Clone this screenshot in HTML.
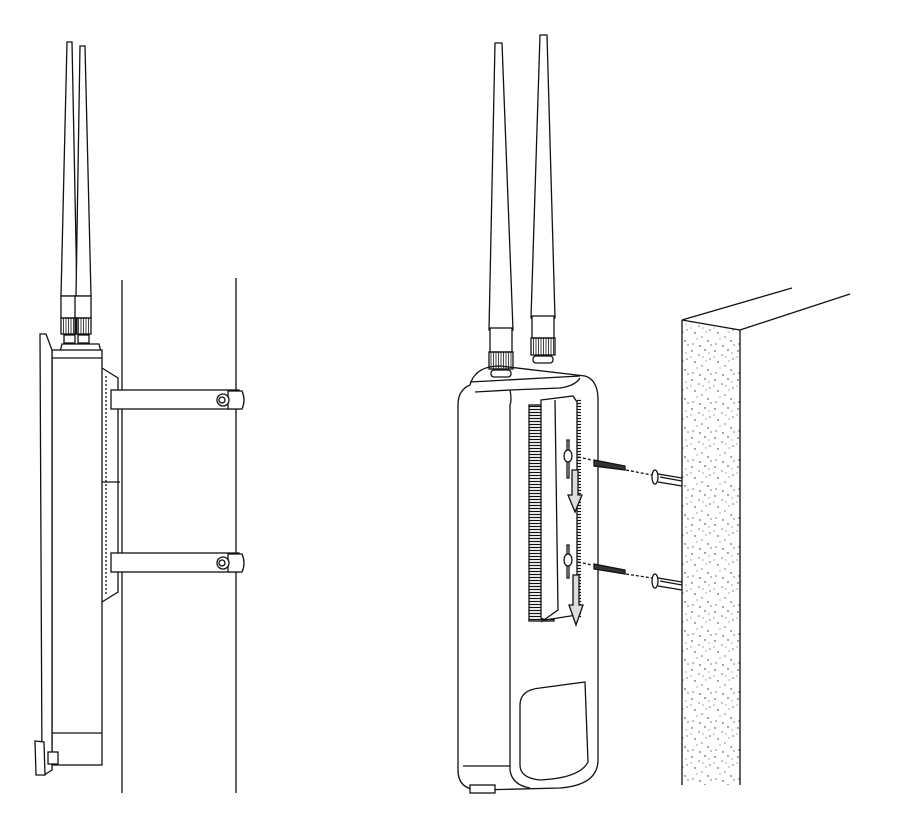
<!DOCTYPE html>
<html><head><style>body{margin:0;background:#fff}svg{display:block}</style></head><body>
<svg width="920" height="833" viewBox="0 0 920 833" xmlns="http://www.w3.org/2000/svg" fill="none" stroke="#111" stroke-width="1.3">
<defs>
<pattern id="sp" width="23" height="29" patternUnits="userSpaceOnUse">
<g fill="#222" stroke="none">
<circle cx="2" cy="3" r=".7"/><circle cx="9" cy="7" r=".6"/><circle cx="15" cy="2" r=".7"/><circle cx="20" cy="11" r=".6"/><circle cx="5" cy="14" r=".7"/><circle cx="12" cy="18" r=".6"/><circle cx="18" cy="22" r=".7"/><circle cx="3" cy="25" r=".6"/><circle cx="10" cy="27" r=".7"/><circle cx="7" cy="20" r=".5"/><circle cx="16" cy="13" r=".5"/><circle cx="21" cy="26" r=".6"/><circle cx="13" cy="9" r=".5"/><circle cx="1" cy="9" r=".5"/><circle cx="19" cy="5" r=".5"/>
</g></pattern>
<pattern id="hl" width="4" height="3" patternUnits="userSpaceOnUse"><line x1="0" y1="1.5" x2="4" y2="1.5" stroke="#111" stroke-width="1.2"/></pattern>
<pattern id="rib" width="2.5" height="4" patternUnits="userSpaceOnUse"><line x1="1" y1="0" x2="1" y2="4" stroke="#111" stroke-width=".8"/></pattern>
</defs>
<line x1="122" y1="280" x2="122" y2="793"/>
<line x1="236" y1="278" x2="236" y2="793"/>
<path d="M67 42 L72 42 L77 296 L61 296 Z" fill="#fff"/>
<path d="M80 46 L85 46 L91 296 L76 296 Z" fill="#fff"/>
<rect x="61" y="296" width="16" height="22" fill="#fff"/>
<rect x="75" y="296" width="16" height="22" fill="#fff"/>
<rect x="61" y="318" width="16" height="16" fill="url(#rib)"/>
<rect x="75" y="318" width="16" height="16" fill="url(#rib)"/>
<rect x="64" y="335" width="11" height="8" fill="#fff"/>
<rect x="78" y="335" width="11" height="8" fill="#fff"/>
<path d="M62 344 L99 344 L101 352 L60 352 Z" fill="#fff"/>
<rect x="52" y="350" width="50" height="415" fill="#fff"/>
<line x1="52" y1="358" x2="102" y2="358"/>
<line x1="52" y1="733" x2="102" y2="733"/>
<path d="M40 334 L46 334 L52 350 L52 770 L44 775 L42 770 Z" fill="#fff"/>
<path d="M35 741 L44 742 L45 775 L36 775 Z" fill="#fff"/>
<rect x="48" y="752" width="10" height="12" fill="#fff"/>
<path d="M102 368 L118 378 L118 592 L102 602"/>
<line x1="106" y1="376" x2="106" y2="595" stroke-dasharray="2 2"/>
<line x1="102" y1="482" x2="120" y2="482"/>
<rect x="111" y="390" width="128" height="19" fill="#fff"/>
<rect x="111" y="553" width="128" height="19" fill="#fff"/>
<g fill="#fff">
<path d="M228 391 L242 391 Q246 400 242 409 L228 409 Z"/>
<circle cx="223" cy="400" r="6"/><circle cx="222" cy="400" r="3"/>
<path d="M228 554 L242 554 Q246 563 242 572 L228 572 Z"/>
<circle cx="223" cy="563" r="6"/><circle cx="222" cy="563" r="3"/>
</g>
<path d="M470 385 Q475 366 500 366 L585 376 Q598 380 598 400 L598 760 Q598 785 560 788 L480 790 Q458 790 458 770 L458 405 Q458 390 470 385 Z" fill="#fff"/>
<path d="M470 382 L580 376"/>
<path d="M475 392 L510 390 L560 388 Q575 386 580 378"/>
<path d="M510 390 Q512 400 510 405 L510 770 Q512 785 530 788"/>
<line x1="463" y1="766" x2="510" y2="766"/>
<path d="M520 705 Q520 690 540 688 L585 682 L588 762 Q580 778 540 780 Q520 778 520 765 Z"/>
<rect x="470" y="785" width="25" height="8" fill="#fff"/>
<path d="M495 43 L502 43 L513 330 L489 330 Z" fill="#fff"/>
<path d="M540 35 L547 35 L555 318 L531 318 Z" fill="#fff"/>
<rect x="490" y="328" width="22" height="24" fill="#fff"/>
<rect x="532" y="316" width="22" height="22" fill="#fff"/>
<rect x="489" y="352" width="24" height="17" fill="url(#rib)" stroke="#111"/>
<rect x="531" y="338" width="24" height="17" fill="url(#rib)" stroke="#111"/>
<rect x="491" y="370" width="20" height="7" rx="3" fill="#fff"/>
<rect x="533" y="356" width="20" height="7" rx="3" fill="#fff"/>
<rect x="529" y="405" width="25" height="216" fill="url(#hl)" stroke="#111"/>
<path d="M541 400 L573 396 L577 402 L577 615 L545 620 L541 618 Z" fill="#fff"/>
<path d="M555 400 L558 610 L541 622"/>
<rect x="577" y="398" width="4" height="220" fill="url(#hl)" stroke="none"/>
<path d="M567 440 L569 440 L569 478 L567 478 Z"/>
<ellipse cx="568" cy="456" rx="4" ry="6" fill="#fff"/>
<path d="M567 545 L569 545 L569 578 L567 578 Z"/>
<ellipse cx="568" cy="560" rx="4" ry="6" fill="#fff"/>
<path d="M572 470 L578 470 L578 495 L582 495 L575 512 L568 495 L572 495 Z" fill="#ddd"/>
<path d="M573 575 L579 575 L579 605 L583 605 L576 625 L569 605 L573 605 Z" fill="#ddd"/>
<line x1="578" y1="457" x2="592" y2="460" stroke-dasharray="3 2"/>
<line x1="578" y1="562" x2="592" y2="565" stroke-dasharray="3 2"/>
<path d="M594 460 L625 466 L625 470 L594 466 Z" fill="#333"/>
<path d="M594 564 L625 570 L625 574 L594 569 Z" fill="#333"/>
<line x1="626" y1="470" x2="652" y2="475" stroke-dasharray="3 2"/>
<line x1="626" y1="574" x2="652" y2="578" stroke-dasharray="3 2"/>
<ellipse cx="655" cy="477" rx="3" ry="7" fill="#fff"/>
<path d="M658 474 L682 478 M658 482 L682 486 M660 477 L682 481"/>
<ellipse cx="655" cy="581" rx="3" ry="7" fill="#fff"/>
<path d="M658 578 L682 582 M658 586 L682 590 M660 581 L682 585"/>
<path d="M682 320 L740 330 L740 785 L682 785 Z" fill="url(#sp)" stroke="none"/>
<line x1="682" y1="320" x2="682" y2="785"/>
<line x1="740" y1="330" x2="740" y2="785"/>
<line x1="682" y1="320" x2="740" y2="330"/>
<line x1="682" y1="320" x2="792" y2="288"/>
<line x1="740" y1="330" x2="850" y2="294"/>
</svg>
</body></html>
